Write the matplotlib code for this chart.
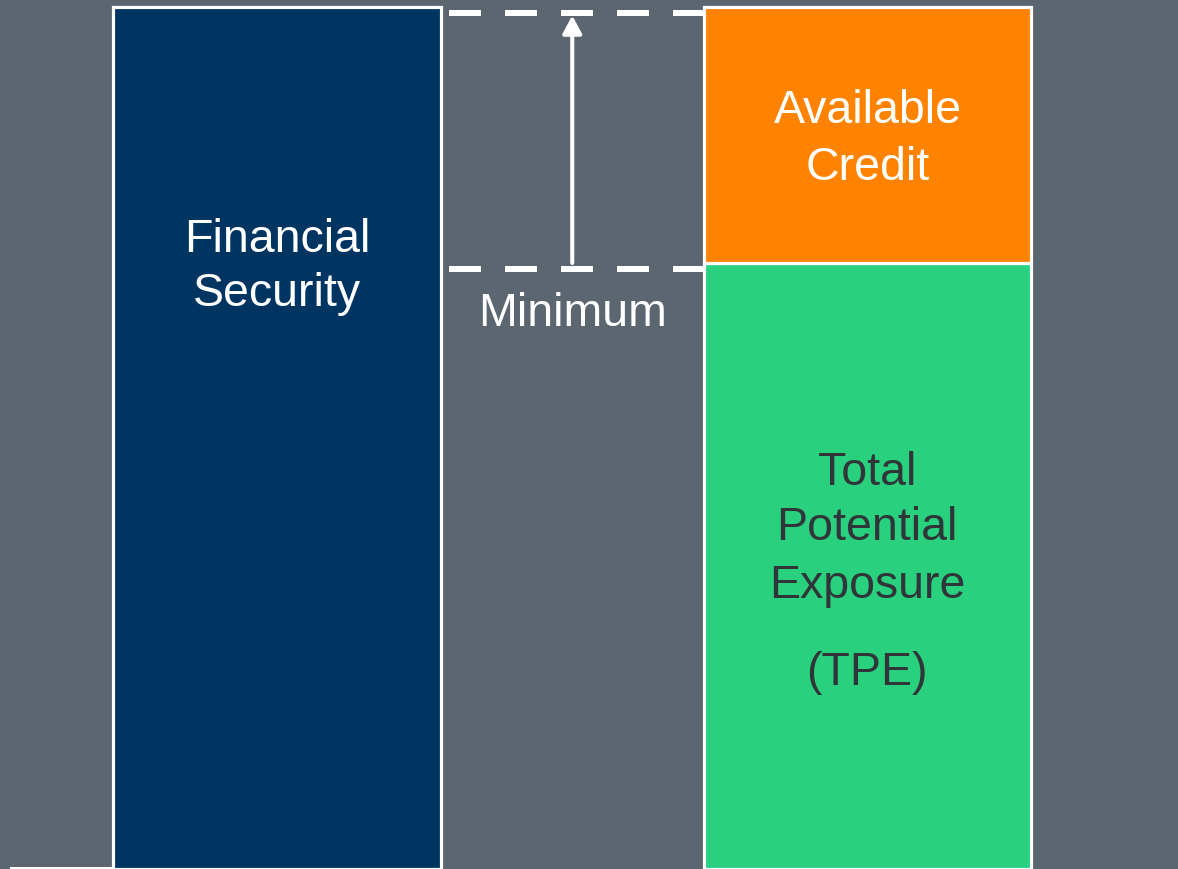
import matplotlib
matplotlib.use("Agg")
import matplotlib.pyplot as plt
import matplotlib.transforms as mtransforms
from matplotlib.lines import Line2D

plt.rcParams['font.family'] = ['Liberation Sans', 'DejaVu Sans']
plt.rcParams['lines.scale_dashes'] = False

# ---- data ----
positions = [0, 1, 2]              # 0: Financial Security, 1: gap (Minimum), 2: TPE + Available Credit
financial_security = [100.0]
total_potential_exposure = [70.3]
available_credit = [29.7]

BG = '#5b6670'
NAVY = '#003562'
ORANGE = '#ff8200'
GREEN = '#29d17f'
DARK_TEXT = '#2f3538'

W, H = 1178, 870
DPI = 100
fig = plt.figure(figsize=(W / DPI, H / DPI), dpi=DPI, facecolor=BG)
ax = fig.add_axes([0, 0, 1, 1])
ax.set_facecolor(BG)
ax.axis('off')

px_per_unit = 295.25
left_x = -277 / px_per_unit
ax.set_xlim(left_x, left_x + W / px_per_unit)
top_val = financial_security[0] * H / 862.0
ax.set_ylim(0, top_val)

bar_w = 327.5 / px_per_unit
edge_lw = 2.3
ax.bar(positions[0], financial_security[0], width=bar_w, color=NAVY,
       edgecolor='white', linewidth=edge_lw, zorder=2)
ax.bar(positions[2], total_potential_exposure[0], width=bar_w, color=GREEN,
       edgecolor='white', linewidth=edge_lw, zorder=2)
ax.bar(positions[2], available_credit[0], width=bar_w,
       bottom=total_potential_exposure[0], color=ORANGE,
       edgecolor='white', linewidth=edge_lw, zorder=2)

# dashed reference lines between bars (slightly below the levels)
off_tr = mtransforms.offset_copy(ax.transData, fig=fig, x=0, y=-5.5, units='dots')
x0 = positions[0] + bar_w / 2
x1 = positions[2] - bar_w / 2
px2pt = 72.0 / DPI
dash = (48 * px2pt, (32 * px2pt, 24 * px2pt))
for level in (financial_security[0], total_potential_exposure[0]):
    ln = Line2D([x0, x1], [level, level], color='white', lw=6 * px2pt,
                linestyle=dash, solid_capstyle='butt', dash_capstyle='butt',
                transform=off_tr, zorder=3)
    ax.add_line(ln)

# arrow from TPE level up to the top dashed line
tip_tr = mtransforms.offset_copy(ax.transData, fig=fig, x=0, y=-8.5, units='dots')
ax.annotate('', xy=(positions[1], financial_security[0]), xycoords=tip_tr,
            xytext=(positions[1], total_potential_exposure[0]), textcoords='data',
            arrowprops=dict(arrowstyle='-|>,head_length=0.54,head_width=0.29',
                            mutation_scale=20, color='white', lw=2.9,
                            shrinkA=0, shrinkB=0),
            zorder=4)

FS = 33.5


def ptext(x, y, s, color='white'):
    fig.text(x / W, 1 - y / H, s, ha='center', va='baseline', fontsize=FS,
             color=color)


ptext(277, 252, 'Financial')
ptext(277, 306, 'Security')
ptext(868, 123, 'Available')
ptext(868, 180, 'Credit')
ptext(573, 326, 'Minimum')
ptext(867, 485, 'Total', DARK_TEXT)
ptext(867, 540, 'Potential', DARK_TEXT)
ptext(867, 598, 'Exposure', DARK_TEXT)
ptext(867, 685, '(TPE)', DARK_TEXT)

# thin white slide edge at the bottom left
fig.add_artist(Line2D([11 / W, 113 / W], [1.5 / H, 1.5 / H], color='white',
                      lw=3 * px2pt, transform=fig.transFigure))

fig.savefig('out.png', dpi=DPI, facecolor=BG)
